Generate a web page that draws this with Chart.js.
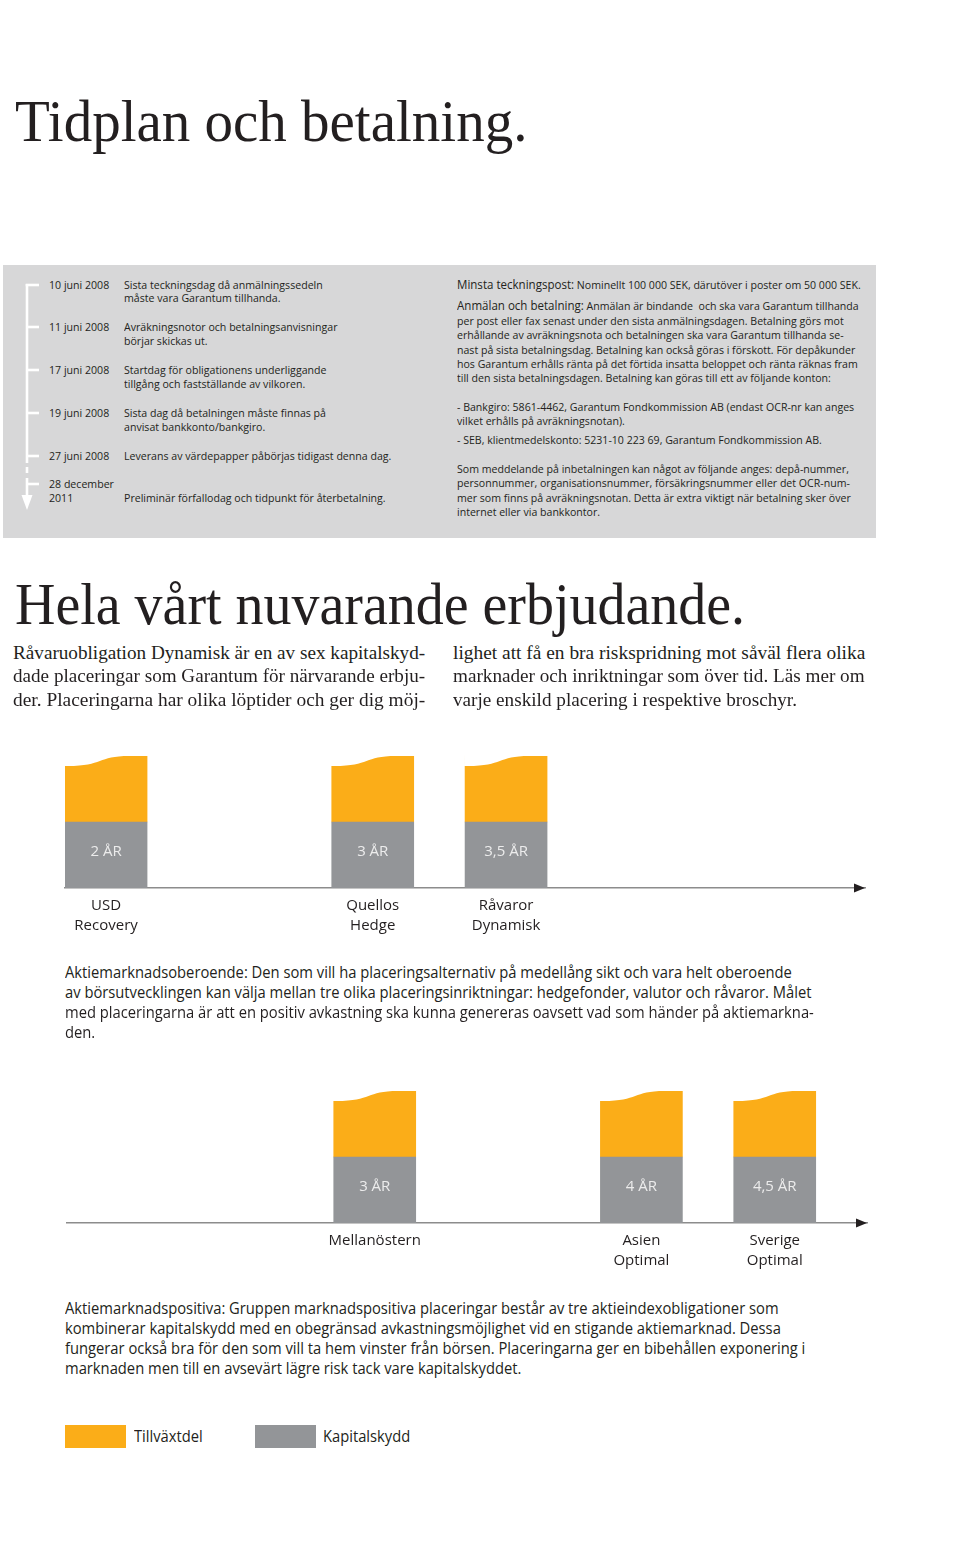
<!DOCTYPE html>
<html><head><meta charset="utf-8">
<script src="https://cdn.jsdelivr.net/npm/chart.js@4.4.1/dist/chart.umd.min.js"></script>
<style>
html,body{margin:0;padding:0;background:#fff;}
body{width:960px;height:1543px;position:relative;overflow:hidden;font-family:'Open Sans',sans-serif;color:#231f20;}
.t{position:absolute;white-space:nowrap;transform-origin:0 0;line-height:1.2;}
.os{font-family:'Open Sans',sans-serif;}
.sr{font-family:'Liberation Serif',serif;}
#box{position:absolute;left:3px;top:265px;width:873px;height:273px;background:#d7d7d8;}
.cv{position:absolute;left:0;}
.sw{position:absolute;width:61px;height:23px;top:1425px;}
</style></head><body>
<div id="box"></div>
<svg style="position:absolute;left:0;top:0" width="60" height="540">
  <g stroke="#ffffff" stroke-width="2.6" fill="none">
    <line x1="27" y1="284" x2="27" y2="463"/>
    <line x1="27" y1="467" x2="27" y2="473"/>
    <line x1="27" y1="478" x2="27" y2="497"/>
    <line x1="25.7" y1="285" x2="39" y2="285"/>
    <line x1="27" y1="327" x2="39" y2="327"/>
    <line x1="27" y1="370" x2="39" y2="370"/>
    <line x1="27" y1="413" x2="39" y2="413"/>
    <line x1="27" y1="456" x2="39" y2="456"/>
    <line x1="27" y1="484" x2="39" y2="484"/>
  </g>
  <polygon points="21.5,495 32.5,495 27,510" fill="#ffffff"/>
</svg>
<canvas id="c1" class="cv" width="960" height="268" style="top:680px;width:960px;height:268px"></canvas>
<canvas id="c2" class="cv" width="960" height="268" style="top:1015px;width:960px;height:268px"></canvas>
<div class="sw" style="left:65px;background:#fbad18"></div>
<div class="sw" style="left:255px;background:#939598"></div>
<div id="txt"></div>
<script>
// ---------- chart data ----------
const durations1 = [2, 3, 3.5];
const durationLabels1 = ['2 ÅR', '3 ÅR', '3,5 ÅR'];
const names1 = [['USD', 'Recovery'], ['Quellos', 'Hedge'], ['Råvaror', 'Dynamisk']];
const kapitalskydd1 = [1, 1, 1];
const tillvaxtdel1 = [1, 1, 1];

const durations2 = [3, 4, 4.5];
const durationLabels2 = ['3 ÅR', '4 ÅR', '4,5 ÅR'];
const names2 = [['Mellanöstern'], ['Asien', 'Optimal'], ['Sverige', 'Optimal']];
const kapitalskydd2 = [1, 1, 1];
const tillvaxtdel2 = [1, 1, 1];

const seriesNames = ['Kapitalskydd', 'Tillväxtdel'];
const ORANGE = '#fbad18', GREY = '#939598';
const AXIS_MIN = 1.846, AXIS_MAX = 4.846;

// ---------- texts ----------
// [html, x, baseline, size, family, group, targetWidth]
const texts = [
  ['Tidplan och betalning.', 15, 141, 60, 'sr', 'h1', 512],
  // timeline
  ['10 juni 2008', 49, 288.5, 11, 'os', 'tl'],
  ['Sista teckningsdag då anmälningssedeln', 124, 288.5, 11, 'os', 'tl'],
  ['måste vara Garantum tillhanda.', 124, 301.5, 11, 'os', 'tl'],
  ['11 juni 2008', 49, 330.5, 11, 'os', 'tl'],
  ['Avräkningsnotor och betalningsanvisningar', 124, 330.5, 11, 'os', 'tl'],
  ['börjar skickas ut.', 124, 344.5, 11, 'os', 'tl'],
  ['17 juni 2008', 49, 373.5, 11, 'os', 'tl'],
  ['Startdag för obligationens underliggande', 124, 373.5, 11, 'os', 'tl'],
  ['tillgång och fastställande av vilkoren.', 124, 387.5, 11, 'os', 'tl'],
  ['19 juni 2008', 49, 416.5, 11, 'os', 'tl'],
  ['Sista dag då betalningen måste finnas på', 124, 416.5, 11, 'os', 'tl'],
  ['anvisat bankkonto/bankgiro.', 124, 430.5, 11, 'os', 'tl'],
  ['27 juni 2008', 49, 459.5, 11, 'os', 'tl'],
  ['Leverans av värdepapper påbörjas tidigast denna dag.', 124, 459.5, 11, 'os', 'tl', 267],
  ['28 december', 49, 487.5, 11, 'os', 'tl'],
  ['2011', 49, 501.5, 11, 'os', 'tl'],
  ['Preliminär förfallodag och tidpunkt för återbetalning.', 124, 501.5, 11, 'os', 'tl'],
  // right block
  ['<span style="font-size:12px">Minsta teckningspost:</span> Nominellt 100 000 SEK, därutöver i poster om 50 000 SEK.', 457, 288.5, 11, 'os', 'rb', 404],
  ['<span style="font-size:12px">Anmälan och betalning:</span> Anmälan är bindande&nbsp; och ska vara Garantum tillhanda', 457, 309.5, 11, 'os', 'rb'],
  ['per post eller fax senast under den sista anmälningsdagen. Betalning görs mot', 457, 324.5, 11, 'os', 'rb'],
  ['erhållande av avräkningsnota och betalningen ska vara Garantum tillhanda se-', 457, 338.5, 11, 'os', 'rb'],
  ['nast på sista betalningsdag. Betalning kan också göras i förskott. För depåkunder', 457, 353.5, 11, 'os', 'rb'],
  ['hos Garantum erhålls ränta på det förtida insatta beloppet och ränta räknas fram', 457, 367.5, 11, 'os', 'rb'],
  ['till den sista betalningsdagen. Betalning kan göras till ett av följande konton:', 457, 381.5, 11, 'os', 'rb'],
  ['- Bankgiro: 5861-4462, Garantum Fondkommission AB (endast OCR-nr kan anges', 457, 410.5, 11, 'os', 'rb'],
  ['vilket erhålls på avräkningsnotan).', 457, 424.5, 11, 'os', 'rb'],
  ['- SEB, klientmedelskonto: 5231-10 223 69, Garantum Fondkommission AB.', 457, 443.5, 11, 'os', 'rb'],
  ['Som meddelande på inbetalningen kan något av följande anges: depå-nummer,', 457, 472.5, 11, 'os', 'rb'],
  ['personnummer, organisationsnummer, försäkringsnummer eller det OCR-num-', 457, 486.5, 11, 'os', 'rb'],
  ['mer som finns på avräkningsnotan. Detta är extra viktigt när betalning sker över', 457, 501.5, 11, 'os', 'rb'],
  ['internet eller via bankkontor.', 457, 515.5, 11, 'os', 'rb'],
  // heading 2 and serif paragraph
  ['Hela vårt nuvarande erbjudande.', 15, 624, 60, 'sr', 'h2', 730],
  ['Råvaruobligation Dynamisk är en av sex kapitalskyd-', 13, 659, 19.5, 'sr', 'sp', 412],
  ['dade placeringar som Garantum för närvarande erbju-', 13, 682.5, 19.5, 'sr', 'sp2', 412],
  ['der. Placeringarna har olika löptider och ger dig möj-', 13, 706, 19.5, 'sr', 'sp3', 412],
  ['lighet att få en bra riskspridning mot såväl flera olika', 453, 659, 19.5, 'sr', 'sp4', 412],
  ['marknader och inriktningar som över tid. Läs mer om', 453, 682.5, 19.5, 'sr', 'sp5', 412],
  ['varje enskild placering i respektive broschyr.', 453, 706, 19.5, 'sr', 'sp'],
  // chart paragraphs
  ['Aktiemarknadsoberoende: Den som vill ha placeringsalternativ på medellång sikt och vara helt oberoende', 65, 978.5, 16, 'os', 'cp', 727],
  ['av börsutvecklingen kan välja mellan tre olika placeringsinriktningar: hedgefonder, valutor och råvaror. Målet', 65, 998.5, 16, 'os', 'cp'],
  ['med placeringarna är att en positiv avkastning ska kunna genereras oavsett vad som händer på aktiemarkna-', 65, 1018.5, 16, 'os', 'cp'],
  ['den.', 65, 1038.5, 16, 'os', 'cp'],
  ['Aktiemarknadspositiva: Gruppen marknadspositiva placeringar består av tre aktieindexobligationer som', 65, 1314.5, 16, 'os', 'cp'],
  ['kombinerar kapitalskydd med en obegränsad avkastningsmöjlighet vid en stigande aktiemarknad. Dessa', 65, 1334.5, 16, 'os', 'cp'],
  ['fungerar också bra för den som vill ta hem vinster från börsen. Placeringarna ger en bibehållen exponering i', 65, 1354.5, 16, 'os', 'cp'],
  ['marknaden men till en avsevärt lägre risk tack vare kapitalskyddet.', 65, 1374.5, 16, 'os', 'cp'],
  // legend
  [seriesNames[1], 134, 1442.5, 16, 'os', 'lg', 69],
  [seriesNames[0], 323, 1442.5, 16, 'os', 'lg'],
];
const K = {os: 0.388, sr: 0.3375};
const holder = document.getElementById('txt');
const els = texts.map(([h, x, b, f, fam]) => {
  const d = document.createElement('div');
  d.className = 't ' + fam;
  d.innerHTML = h;
  d.style.fontSize = f + 'px';
  d.style.left = x + 'px';
  d.style.top = (b - 0.6 * f - K[fam] * f) + 'px';
  holder.appendChild(d);
  return d;
});
function fitAll() {
  const gs = {};
  texts.forEach((t, i) => {
    const w = t[6];
    if (w) {
      const nat = els[i].offsetWidth;
      const s = w / nat;
      els[i].style.transform = 'scaleX(' + s + ')';
      if (!(t[5] in gs)) gs[t[5]] = s;
    }
  });
  texts.forEach((t, i) => {
    if (!t[6] && gs[t[5]]) els[i].style.transform = 'scaleX(' + gs[t[5]] + ')';
  });
}

// ---------- plugins ----------
const wavePlugin = {
  id: 'wave',
  afterDatasetsDraw(chart) {
    const ctx = chart.ctx;
    const meta = chart.getDatasetMeta(1);
    ctx.save();
    ctx.fillStyle = '#ffffff';
    meta.data.forEach(el => {
      const p = el.getProps(['x', 'y', 'width'], true);
      const w = p.width, L = p.x - w / 2, R = p.x + w / 2, y = p.y;
      ctx.beginPath();
      ctx.moveTo(L - 1, y - 2);
      ctx.lineTo(L - 1, y + 10);
      ctx.lineTo(L, y + 10);
      ctx.bezierCurveTo(L + 0.48 * w, y + 10.5, L + 0.38 * w, y - 0.3, L + 0.8 * w, y);
      ctx.lineTo(R + 1, y);
      ctx.lineTo(R + 1, y - 2);
      ctx.closePath();
      ctx.fill();
    });
    ctx.restore();
  }
};
const arrowPlugin = {
  id: 'arrow',
  afterDraw(chart) {
    const ctx = chart.ctx, a = chart.chartArea;
    ctx.save();
    ctx.fillStyle = '#231f20';
    ctx.beginPath();
    ctx.moveTo(a.right, a.bottom);
    ctx.lineTo(a.right - 11, a.bottom - 4.5);
    ctx.lineTo(a.right - 11, a.bottom + 4.5);
    ctx.closePath();
    ctx.fill();
    ctx.restore();
  }
};
function durPlugin(labels) {
  return {
    id: 'dur',
    afterDatasetsDraw(chart) {
      const ctx = chart.ctx;
      const meta = chart.getDatasetMeta(0);
      ctx.save();
      ctx.fillStyle = '#ececec';
      ctx.font = '15px "Open Sans"';
      ctx.textAlign = 'center';
      ctx.textBaseline = 'middle';
      meta.data.forEach((el, i) => {
        const p = el.getProps(['x', 'y', 'base'], true);
        ctx.fillText(labels[i], p.x, (p.y + p.base) / 2 - 3);
      });
      ctx.restore();
    }
  };
}

function makeChart(id, durations, durLabels, names, kap, till, padL) {
  return new Chart(document.getElementById(id), {
    type: 'bar',
    data: {
      datasets: [
        {label: seriesNames[0], data: durations.map((d, i) => ({x: d, y: kap[i]})), backgroundColor: GREY, barThickness: 82},
        {label: seriesNames[1], data: durations.map((d, i) => ({x: d, y: till[i]})), backgroundColor: ORANGE, barThickness: 82}
      ]
    },
    options: {
      responsive: false,
      animation: false,
      layout: {padding: {left: padL, right: 960 - padL - 800, top: 10, bottom: 0}},
      plugins: {legend: {display: false}, tooltip: {enabled: false}},
      scales: {
        x: {
          type: 'linear', min: AXIS_MIN, max: AXIS_MAX, stacked: true, offset: false,
          grid: {display: false, drawTicks: false},
          border: {display: true, color: '#8c8c8c', width: 1.5},
          afterBuildTicks: s => { s.ticks = durations.map(v => ({value: v})); },
          afterFit: s => { s.height = 60; },
          ticks: {
            autoSkip: false, maxRotation: 0, minRotation: 0, padding: 8,
            color: '#231f20', font: {family: 'Open Sans', size: 15, lineHeight: 1.33},
            callback: (v, i) => names[i]
          }
        },
        y: {display: false, min: 0, max: 3, stacked: true}
      }
    },
    plugins: [wavePlugin, arrowPlugin, durPlugin(durLabels)]
  });
}

function go() {
  fitAll();
  makeChart('c1', durations1, durationLabels1, names1, kapitalskydd1, tillvaxtdel1, 65);
  makeChart('c2', durations2, durationLabels2, names2, kapitalskydd2, tillvaxtdel2, 67);
}
if (document.fonts && document.fonts.load) {
  Promise.all([
    document.fonts.load('15px "Open Sans"'),
    document.fonts.load('20px "Liberation Serif"')
  ]).then(go, go);
} else { go(); }
</script>
</body></html>
